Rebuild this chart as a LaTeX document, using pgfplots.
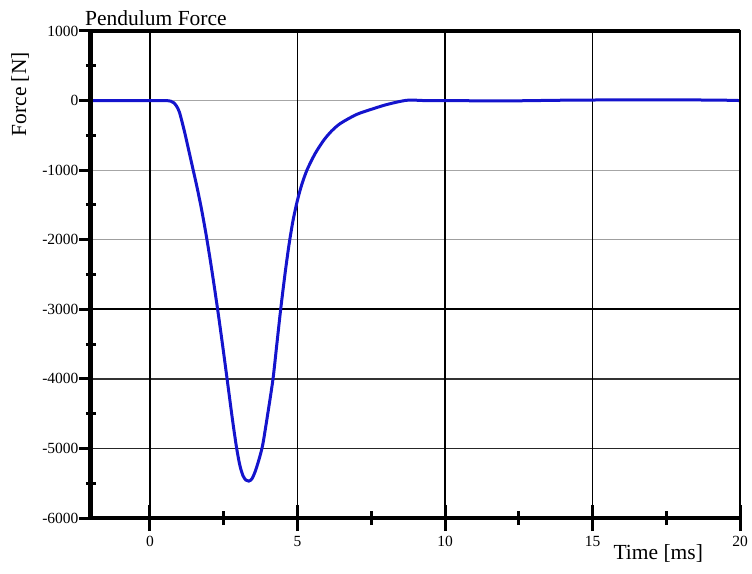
\documentclass[border=0pt]{standalone}
\usepackage{fontspec}
\setmainfont{Liberation Serif}
\usepackage{pgfplots}
\pgfplotsset{compat=1.18}
\definecolor{curveblue}{RGB}{20,20,205}
\begin{document}
\begin{tikzpicture}
\begin{axis}[
  scale only axis, width=649pt, height=487pt,
  xmin=-2, xmax=20, ymin=-6000, ymax=1000,
  xtick={0,5,10,15,20},
  ytick={-6000,-5000,...,1000},
  axis line style={line width=1pt},
  xtick pos=left, ytick pos=left,
  tick style={draw=none},
  /pgf/number format/assume math mode=true,
  /pgf/number format/1000 sep={},
  ticklabel style={font=\fontsize{15.5pt}{18pt}\selectfont},
  xticklabel style={yshift=-15pt},
  yticklabel style={xshift=-9pt},
  clip=false,
  xlabel={Time [ms]}, ylabel={Force [N]},
  label style={font=\fontsize{21.5pt}{24pt}\selectfont},
  xlabel style={at={(axis description cs:0.874,0)}, anchor=center, yshift=-35pt},
  ylabel style={at={(axis description cs:-0.1094,0.87)}, anchor=center},
]
% grid lines
\draw[gray!70, line width=1.2pt] (axis cs:-2,0) -- (axis cs:20,0);
\draw[gray!70, line width=1.2pt] (axis cs:-2,-1000) -- (axis cs:20,-1000);
\draw[gray!75, line width=1.2pt] (axis cs:-2,-2000) -- (axis cs:20,-2000);
\draw[black, line width=2pt] (axis cs:-2,-3000) -- (axis cs:20,-3000);
\draw[black!80, line width=1.4pt] (axis cs:-2,-4000) -- (axis cs:20,-4000);
\draw[black!85, line width=1.5pt] (axis cs:-2,-5000) -- (axis cs:20,-5000);
\draw[black, line width=2.6pt] (axis cs:0,-6000) -- (axis cs:0,1000);
\draw[black, line width=1.1pt] (axis cs:5,-6000) -- (axis cs:5,1000);
\draw[black, line width=1.1pt] (axis cs:10,-6000) -- (axis cs:10,1000);
\draw[black, line width=1.1pt] (axis cs:15,-6000) -- (axis cs:15,1000);
\addplot[curveblue, line width=3pt, smooth, tension=0.45] coordinates {
(-2,0) (0,0) (0.45,0) (0.6,-2) (0.7,-8) (0.8,-30) (0.9,-80) (1.0,-170) (1.16,-430)
(1.3,-690) (1.47,-1010) (1.6,-1257) (1.75,-1570) (1.9,-1922) (2.05,-2312)
(2.2,-2732) (2.35,-3174) (2.5,-3639) (2.65,-4119) (2.8,-4599) (2.94,-5005)
(3.05,-5250) (3.15,-5390) (3.25,-5455)
(3.35,-5470) (3.45,-5440) (3.55,-5350) (3.68,-5180) (3.82,-4950) (4.0,-4480)
(4.17,-4000) (4.3,-3500) (4.43,-3000) (4.58,-2480) (4.72,-2050) (4.85,-1720)
(5.0,-1430) (5.15,-1200) (5.33,-990) (5.6,-760) (5.89,-570) (6.15,-440)
(6.45,-330) (7.0,-200) (7.58,-115) (8.0,-60) (8.48,-12) (8.8,8) (9.3,0)
(10,0) (12,-5) (14,5) (16,10) (18,10) (19.5,5) (20,0)
};
% heavy frame lines
\draw[line width=5pt] (axis description cs:0,0) -- (axis description cs:0,1);
\draw[line width=4pt] (axis description cs:0,1) -- (axis description cs:1,1);
\draw[line width=3.3pt] (axis description cs:0,0) -- (axis description cs:1,0);
\draw[line width=2.7pt] (axis description cs:1,0) -- (axis description cs:1,1);
% ticks
\pgfplotsinvokeforeach{-6000,-5000,-4000,-3000,-2000,-1000,0,1000}{
  \draw[line width=3pt] ([xshift=-12pt]axis cs:-2,#1) -- (axis cs:-2,#1);
}
\pgfplotsinvokeforeach{-5500,-4500,-3500,-2500,-1500,-500,500}{
  \draw[line width=3pt] ([xshift=-5pt]axis cs:-2,#1) -- ([xshift=5pt]axis cs:-2,#1);
}
\pgfplotsinvokeforeach{0,5,10,15,20}{
  \draw[line width=3pt] ([yshift=-13pt]axis cs:#1,-6000) -- ([yshift=13pt]axis cs:#1,-6000);
}
\pgfplotsinvokeforeach{2.5,7.5,12.5,17.5}{
  \draw[line width=3pt] ([yshift=-7pt]axis cs:#1,-6000) -- ([yshift=7pt]axis cs:#1,-6000);
}
\node[anchor=base west, font=\fontsize{21.5pt}{24pt}\selectfont, inner sep=0pt] at ([xshift=-6pt,yshift=5pt]axis description cs:0,1) {Pendulum Force};
\end{axis}
\pgfresetboundingbox
\path ([xshift=-91pt,yshift=-55pt]current axis.south west) rectangle ++(752pt,573pt);
\end{tikzpicture}
\end{document}
